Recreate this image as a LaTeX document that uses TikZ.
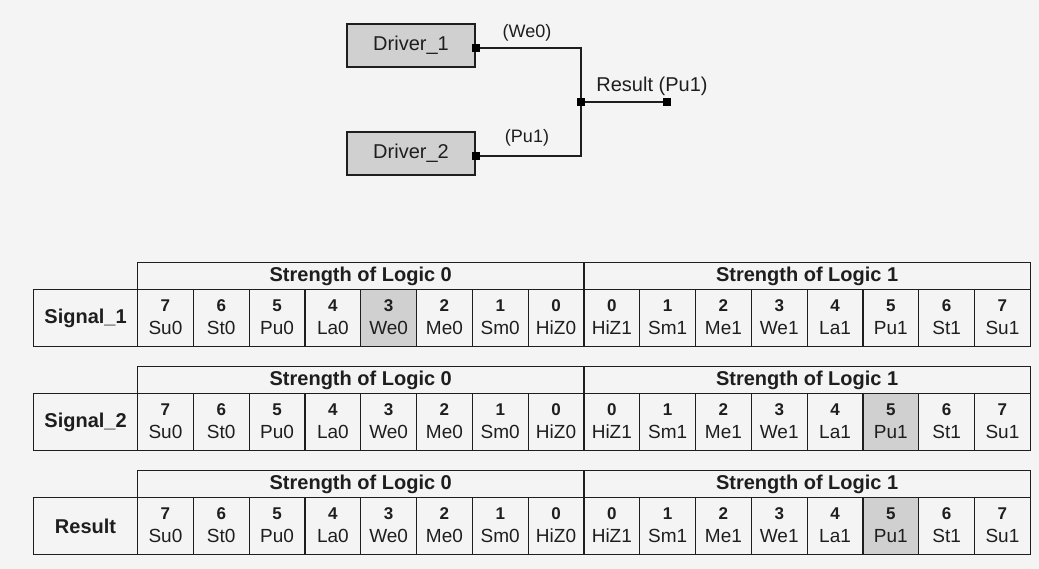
\documentclass[tikz,border=0pt]{standalone}
\usepackage{fontspec}
\setmainfont{Liberation Sans}
\definecolor{bg}{RGB}{244,244,244}
\definecolor{shade}{RGB}{208,208,208}
\definecolor{ink}{RGB}{30,30,30}
\begin{document}
\begin{tikzpicture}[x=1pt,y=-1pt,
  cell/.style={draw=ink, line width=1.1pt, inner sep=0pt, anchor=north west},
  hdrtext/.style={font=\fontsize{20}{22}\selectfont\bfseries, text=ink},
  numtext/.style={font=\fontsize{17}{17}\selectfont\bfseries, text=ink, inner sep=0pt},
  nmtext/.style={font=\fontsize{19}{19}\selectfont, text=ink, inner sep=0pt},
  drv/.style={draw=ink, line width=1.1pt, fill=shade, minimum width=128pt, minimum height=43pt, inner sep=0pt, font=\fontsize{20}{22}\selectfont, text=ink},
  port/.style={fill=black, minimum size=8pt, inner sep=0pt},
  wire/.style={draw=ink, line width=1.1pt},
  wlabel/.style={font=\fontsize{18}{20}\selectfont, text=ink}
]
\fill[bg] (0,0) rectangle (1039,569);
\useasboundingbox (0,0) rectangle (1039,569);

% top circuit
\node[drv] (d1) at (411,45.5) {Driver\_1};
\node[drv] (d2) at (411,153.5) {Driver\_2};
\node[port] (p1) at ([yshift=-2.5pt]d1.east) {};
\node[port] (p2) at ([yshift=-2.5pt]d2.east) {};
\node[port] (j) at (581,102) {};
\node[port] (e) at (667,102) {};
\draw[wire] (p1) -| (j);
\draw[wire] (p2) -| (j);
\draw[wire] (j) -- (e);
\node[wlabel] (l1) at (527,33) {(We0)};
\node[wlabel] (l2) at (527,138) {(Pu1)};
\node[font=\fontsize{20}{22}\selectfont, text=ink] (l3) at (652,86) {Result (Pu1)};

% tables
\foreach \t/\ty/\lab/\hl in {1/262/Signal\_1/4, 2/366/Signal\_2/13, 3/470/Result/13}{
  \node[cell, minimum width=446.4pt, minimum height=27pt] (h\t a) at (137,\ty) {};
  \node[hdrtext] at (h\t a.center) {Strength of Logic 0};
  \node[cell, minimum width=446.4pt, minimum height=27pt] (h\t b) at (583.4,\ty) {};
  \node[hdrtext] at (h\t b.center) {Strength of Logic 1};
  \node[cell, minimum width=104pt, minimum height=57pt] (lab\t) at (33,\ty+27) {};
  \node[hdrtext] at (lab\t.center) {\lab};
  \foreach \num/\nm [count=\i from 0] in {7/Su0,6/St0,5/Pu0,4/La0,3/We0,2/Me0,1/Sm0,0/HiZ0,0/HiZ1,1/Sm1,2/Me1,3/We1,4/La1,5/Pu1,6/St1,7/Su1}{
    \ifnum\i=\hl\def\cf{shade}\else\def\cf{bg}\fi
    \node[cell, fill=\cf, minimum width=55.8pt, minimum height=57pt] (c\t-\i) at (137+55.8*\i,\ty+27) {};
    \node[numtext] at ([yshift=12pt]c\t-\i.center) {\num};
    \node[nmtext] at ([yshift=-10pt]c\t-\i.center) {\nm};
  }
}
\end{tikzpicture}
\end{document}
